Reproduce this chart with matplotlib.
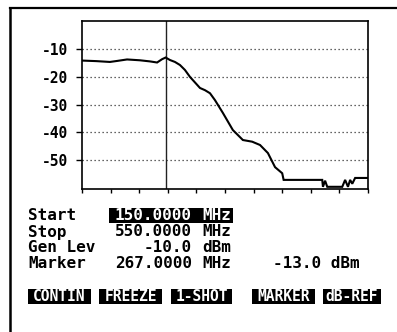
import matplotlib.pyplot as plt
from matplotlib.patches import Rectangle
from matplotlib.lines import Line2D

# sweep settings
start_mhz = 150.0
stop_mhz = 550.0
gen_level = -10.0
marker_mhz = 267.0
marker_db = -13.0

# measured response (MHz, dBm)
freq = [150, 170, 189, 200, 213, 231, 245, 255, 262, 267, 273, 280, 287, 294,
        301, 315, 322, 329, 336, 347, 361, 375, 388, 399, 410, 420, 430, 432,
        486, 487, 490, 493, 514, 518, 522, 525, 528, 532, 550]
level = [-14.1, -14.3, -14.6, -14.2, -13.7, -14.0, -14.4, -14.8, -13.6, -13.0,
         -13.9, -14.6, -15.7, -17.5, -20.0, -24.0, -24.8, -25.9, -28.4, -33.0,
         -39.2, -42.8, -43.4, -44.6, -47.5, -52.6, -54.8, -57.2, -57.2, -59.7,
         -57.5, -59.7, -59.7, -57.2, -59.7, -57.2, -58.6, -56.5, -56.5]

y_ticks = [-10, -20, -30, -40, -50]
x_ticks = list(range(150, 551, 40))

softkeys = ["CONTIN", "FREEZE", "1-SHOT", "MARKER", "dB-REF"]
softkey_x = [28, 99, 171, 252, 323]
softkey_w = [63, 63, 61, 63, 58]

W, H = 397, 332
MONO = "DejaVu Sans Mono"

fig = plt.figure(figsize=(W / 100, H / 100), dpi=100)
fig.patch.set_facecolor("white")


def fx(x):
    return x / W


def fy(y):
    return 1 - y / H


# screen bezel (top and left edges)
fig.add_artist(Line2D([fx(10), fx(397)], [fy(8), fy(8)], color="black", lw=1.6))
fig.add_artist(Line2D([fx(10), fx(10)], [fy(8), fy(332)], color="black", lw=1.8))

# ==========================
# Trace window
# ==========================
ax = fig.add_axes([fx(82), fy(189.3), fx(368 - 82), (189.3 - 20.7) / H])
ax.set_xlim(start_mhz, stop_mhz)
ax.set_ylim(-60.6, 0.3)

for v in y_ticks:
    ax.axhline(v, color="#333333", lw=0.9, ls=(0, (1, 2.2)))
ax.axvline(marker_mhz, color="#222222", lw=1.0)
ax.plot(freq, level, color="black", lw=1.5, solid_joinstyle="miter")

for s in ax.spines.values():
    s.set_linewidth(1.2)

ax.set_yticks(y_ticks)
ax.set_yticklabels([str(v) for v in y_ticks], fontfamily=MONO,
                   fontweight="bold", fontsize=10.5)
ax.tick_params(axis="y", direction="out", length=4, width=1, pad=6)
ax.set_xticks(x_ticks)
ax.set_xticklabels([])
ax.tick_params(axis="x", direction="out", length=3, width=1)

# ==========================
# Readout block
# ==========================
txt = dict(fontfamily=MONO, fontweight="bold", fontsize=11.5, va="center")

fig.add_artist(Rectangle((fx(109), fy(223)), fx(233 - 109), (223 - 208) / H,
                         facecolor="black", edgecolor="none"))

rows = [
    ("Start", f"{start_mhz:.4f}", "MHz", 216),
    ("Stop", f"{stop_mhz:.4f}", "MHz", 232),
    ("Gen Lev", f"{gen_level:.1f}", "dBm", 248),
    ("Marker", f"{marker_mhz:.4f}", "MHz", 264),
]
for i, (name, val, unit, y) in enumerate(rows):
    col = "white" if i == 0 else "black"
    fig.text(fx(28), fy(y), name, color="black", ha="left", **txt)
    fig.text(fx(192), fy(y), val, color=col, ha="right", **txt)
    fig.text(fx(202), fy(y), unit, color=col, ha="left", **txt)

fig.text(fx(273), fy(264), f"{marker_db:.1f} dBm", color="black", ha="left", **txt)

# ==========================
# Soft keys
# ==========================
for label, x0, w in zip(softkeys, softkey_x, softkey_w):
    fig.add_artist(Rectangle((fx(x0), fy(304)), fx(w), 15 / H,
                             facecolor="black", edgecolor="none"))
    fig.text(fx(x0 + w / 2), fy(296.5), label, color="white", ha="center",
             va="center", fontfamily=MONO, fontweight="bold", fontsize=10.5)

fig.savefig("out.png", dpi=100, facecolor="white")
